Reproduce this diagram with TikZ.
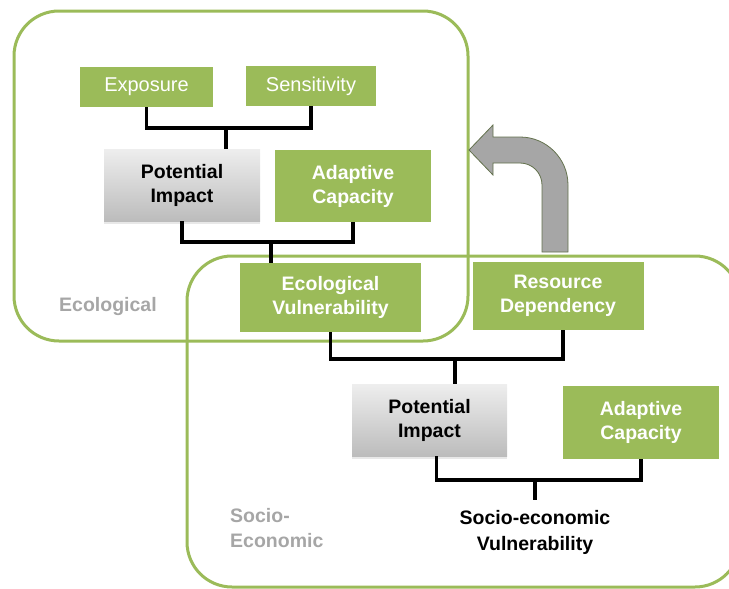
\documentclass[tikz,border=0pt]{standalone}
\usepackage{fontspec}
\setmainfont{Liberation Sans}
\usepackage{tikz}
\usetikzlibrary{positioning, calc, shadows}
\definecolor{cGreen}{RGB}{155,187,89}
\definecolor{cLabel}{RGB}{166,166,166}
\definecolor{cArrow}{RGB}{166,166,166}
\definecolor{cArrowEdge}{RGB}{100,114,78}
\definecolor{cShadeTop}{RGB}{238,238,238}
\definecolor{cShadeBot}{RGB}{188,188,188}
\tikzset{
	region/.style     ={draw=cGreen, line width=3pt, rounded corners=45pt},
	greenbox/.style   ={rectangle, fill=cGreen, text=white, align=center, inner sep=0pt, font=\bfseries\fontsize{19.5}{24}\selectfont},
	factor/.style     ={greenbox, font=\fontsize{20}{24}\selectfont},
	impactbox/.style  ={rectangle, top color=cShadeTop, bottom color=cShadeBot, align=center, inner sep=0pt, font=\bfseries\fontsize{19.5}{24}\selectfont, drop shadow={opacity=0.18, shadow xshift=0pt, shadow yshift=-2.5pt}},
	outcome/.style    ={align=center, inner sep=0pt, font=\bfseries\fontsize{19.5}{26}\selectfont},
	regionlabel/.style={text=cLabel, align=left, anchor=west, inner sep=0pt, font=\bfseries\fontsize{19.5}{25}\selectfont},
	% black elbow connectors
	bracket/.style    ={line width=3.2pt, black},
	bentarrow/.style  ={fill=cArrow, draw=cArrowEdge, line width=0.8pt},
}

\begin{document}
\begin{tikzpicture}[x=1pt, y=-1pt]
	\useasboundingbox (0,0) rectangle (729,589);
	% the two overlapping regions
	\draw[region] (14,11) rectangle (468,341);
	\draw[region] (187,256) rectangle (740,587);
	\node[regionlabel] (lblEco) at (59,306) {Ecological};
	\node[regionlabel] (lblSoc) at (230,528) {Socio-\\Economic};
	% ecological part
	\node[factor, minimum width=133pt, minimum height=40pt] (expo) at (146.5,87) {Exposure};
	\node[factor, minimum width=130pt, minimum height=40pt] (sens) at (311,86) {Sensitivity};
	\node[impactbox, minimum width=156pt, minimum height=72pt] (impEco) at (182,185) {Potential\\Impact};
	\node[greenbox, minimum width=156pt, minimum height=72pt] (adaEco) at (353,186) {Adaptive\\Capacity};
	\node[greenbox, minimum width=181pt, minimum height=69pt] (ecoVul) at (330.5,297.5) {Ecological\\Vulnerability};
	% socio-economic part
	\node[greenbox, minimum width=171pt, minimum height=68pt] (resDep) at (558,296) {Resource\\Dependency};
	\node[impactbox, minimum width=155pt, minimum height=72pt] (impSoc) at (429.5,420) {Potential\\Impact};
	\node[greenbox, minimum width=156pt, minimum height=73pt] (adaSoc) at (641,422.5) {Adaptive\\Capacity};
	\node[outcome] (socVul) at (535,532) {Socio-economic\\Vulnerability};
	% connectors
	\coordinate (j1) at (226,128);
	\coordinate (j2) at (271,242);
	\coordinate (j3) at (455,359);
	\coordinate (j4) at (535,480);
	\draw[bracket] (expo.south) |- (j1) -| (sens.south);
	\draw[bracket] (j1) -- (j1 |- impEco.north);
	\draw[bracket] (impEco.south) |- (j2) -| (adaEco.south);
	\draw[bracket] (j2) -- (j2 |- ecoVul.north);
	\draw[bracket] (ecoVul.south) |- (j3) -| ([xshift=5pt]resDep.south);
	\draw[bracket] (j3) -- (j3 |- impSoc.north);
	\draw[bracket] ([xshift=7pt]impSoc.south) |- (j4) -| (adaSoc.south);
	\draw[bracket] (j4) -- ++(0,20);
	% feedback arrow
	\draw[bentarrow] (542,252) -- (568,252) -- (568,185)
		.. controls (568,158.5) and (546.5,137) .. (520,137)
		-- (493,137) -- (493,125) -- (469,150) -- (493,175) -- (493,163) -- (520,163)
		.. controls (532.2,163) and (542,172.8) .. (542,185) -- cycle;
\end{tikzpicture}
\end{document}
